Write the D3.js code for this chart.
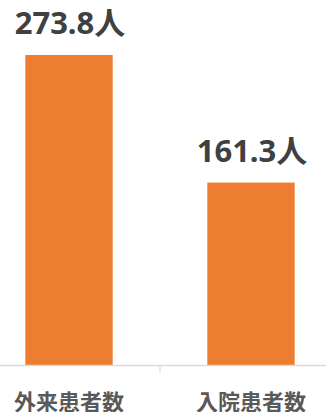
<!DOCTYPE html>
<html><head><meta charset="utf-8">
<script src="https://cdn.jsdelivr.net/npm/d3@7"></script>
<style>html,body{margin:0;padding:0;background:#fff;overflow:hidden}</style>
</head><body>
<svg id="c" width="326" height="412"></svg>
<script>
const categories = ["外来患者数", "入院患者数"];
const values = [273.8, 161.3];
const unit = "人";

const svg = d3.select("#c");
const baseY = 365.5;
const x = d3.scaleBand().domain(categories).range([-22, 342]).paddingInner(0.52).paddingOuter(0.26);
const y = d3.scaleLinear().domain([0, 273.8]).range([baseY, 55]);
const font = "'Noto Sans','Noto Sans CJK JP',sans-serif";
const cjk = "'Noto Sans CJK JP',sans-serif";

svg.selectAll("rect.bar").data(values).join("rect")
  .attr("class","bar")
  .attr("x",(d,i)=>x(categories[i]))
  .attr("width",x.bandwidth())
  .attr("y",d=>y(d))
  .attr("height",d=>baseY-y(d))
  .attr("fill","#ed7d31");

svg.selectAll("text.val").data(values).join("text")
  .attr("class","val")
  .attr("x",(d,i)=>x(categories[i])+x.bandwidth()/2+1)
  .attr("y",d=>y(d)-21)
  .attr("text-anchor","middle")
  .attr("font-family",font).attr("font-weight","bold").attr("font-size",31)
  .attr("fill","#404040")
  .text(d=>d.toFixed(1)+unit);

// axis line
svg.append("line").attr("x1",0).attr("x2",326).attr("y1",baseY).attr("y2",baseY)
  .attr("stroke","#d9d9d9").attr("stroke-width",1.5);
// tick at band boundary
const bx = x(categories[1]) - x.step()*x.paddingInner()/2;
svg.append("line").attr("x1",bx).attr("x2",bx).attr("y1",baseY).attr("y2",baseY+8)
  .attr("stroke","#d9d9d9").attr("stroke-width",1);

svg.selectAll("text.cat").data(categories).join("text")
  .attr("class","cat")
  .attr("x",d=>x(d)+x.bandwidth()/2)
  .attr("y",410)
  .attr("text-anchor","middle")
  .attr("font-family",cjk).attr("font-weight","bold").attr("font-size",22)
  .attr("fill","#595959")
  .text(d=>d);
</script>
</body></html>
